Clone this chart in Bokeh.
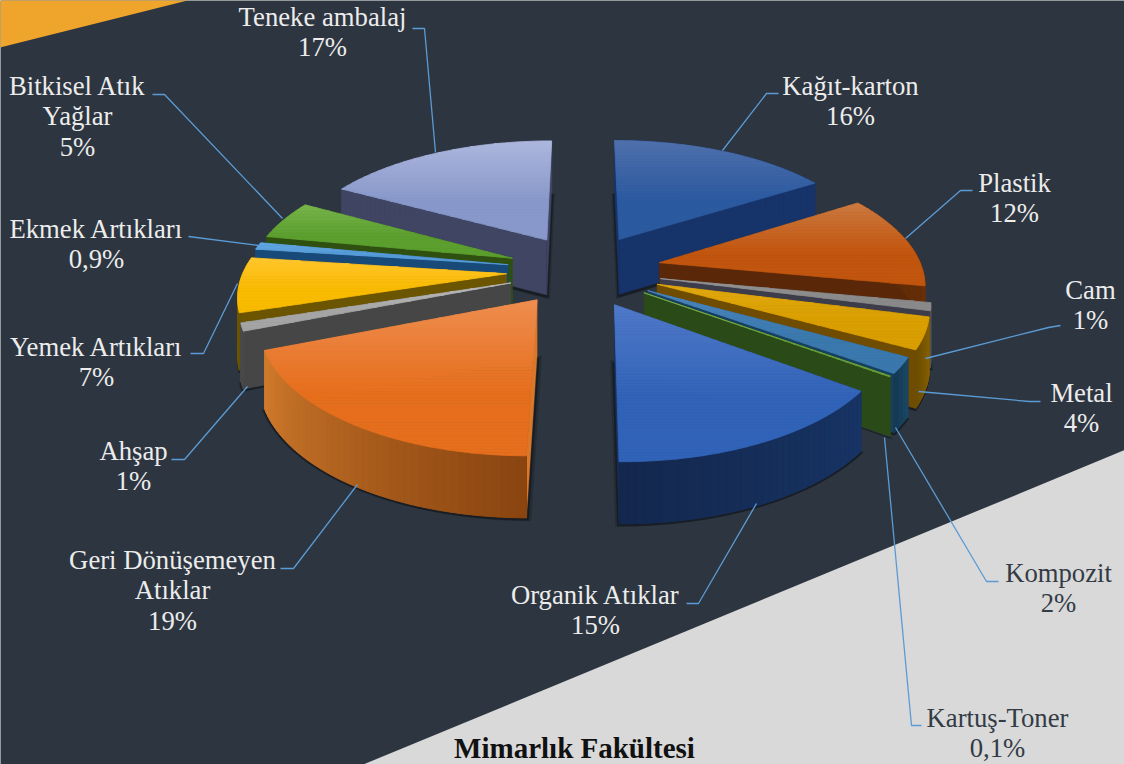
import math
from bokeh.plotting import figure
from bokeh.models import Range1d
from bokeh.core.properties import value
from bokeh.embed import file_html
from bokeh.resources import INLINE

categories = ["Kağıt-karton", "Plastik", "Cam", "Metal", "Kompozit", "Kartuş-Toner", "Organik Atıklar",
              "Geri Dönüşemeyen Atıklar", "Ahşap", "Yemek Artıkları", "Ekmek Artıkları", "Bitkisel Atık Yağlar",
              "Teneke ambalaj"]
values = [16, 12, 1, 4, 2, 0.1, 15, 19, 1, 7, 0.9, 5, 17]
value_labels = ["16%", "12%", "1%", "4%", "2%", "0,1%", "15%", "19%", "1%", "7%", "0,9%", "5%", "17%"]

top_light = ["#4f70ab", "#cc7a42", "#969696", "#e0a810", "#4a86bd", "#7fb050", "#5079c9", "#ee8e50", "#bdbdbd",
             "#ffc62e", "#62a8e0", "#78b44c", "#adb7de"]
top_dark = ["#2c5aa0", "#c2560f", "#8a8a8a", "#d99e00", "#3a78ad", "#6aa339", "#3163b8", "#e66f1d", "#a5a5a5",
            "#f9bb00", "#559bd8", "#5c9f2f", "#8898ca"]
wall_a = ["#17346a", "#5a2a08", "#3c3c4a", "#8a6200", "#1a4664", "#2a4a18", "#173465", "#8a4510", "#4a4a4a",
          "#6b5500", "#174a78", "#2f5010", "#3f4562"]
wall_b = ["#17346a", "#6a3008", "#555555", "#6e5000", "#163a55", "#2a4a18", "#14284e", "#d07a2c", "#4a4a4a",
          "#6b5500", "#174a78", "#2f5010", "#3f4562"]
side = ["#17346a", "#5a2808", "#3c3c4a", "#704c00", "#17405f", "#2a4a18", "#173465", "#d9772a", "#464646",
        "#6b5500", "#174a78", "#2f5010", "#3f4562"]
nudge_x = [0, 0, 0, 0, -3, -4, -5, 1, 4, 3, 3, 3, 3]
nudge_y = [0, -1, 0, 0, 0, 0, 0, -2, 0, 0, 0, 0, 0]

label_lines = [["Kağıt-karton"], ["Plastik"], ["Cam"], ["Metal"], ["Kompozit"], ["Kartuş-Toner"], ["Organik Atıklar"],
               ["Geri Dönüşemeyen", "Atıklar"], ["Ahşap"], ["Yemek Artıkları"], ["Ekmek Artıkları"],
               ["Bitkisel Atık", "Yağlar"], ["Teneke ambalaj"]]
label_x = [850, 1014, 1090, 1081, 1058, 997, 595, 172, 133, 96, 96, 77, 322]
label_y = [85, 182, 289, 392, 572, 717, 594, 559, 450, 346, 228, 85, 16]
label_color = ["#ececec", "#ececec", "#ececec", "#ececec", "#333b45", "#333b45", "#ececec", "#ececec", "#ececec",
               "#ececec", "#ececec", "#ececec", "#ececec"]
leaders = [
    [(778, 93), (766, 93), (722, 150)], [(972, 190), (960, 190), (905, 238)],
    [(1060, 325), (1048, 327), (925, 358)], [(1040, 401), (1029, 401), (918, 391)],
    [(998, 581), (986, 581), (895, 427)], [(921, 725), (911, 725), (884, 437)],
    [(686, 603), (698, 603), (756, 503)], [(280, 568), (293, 568), (357, 484)],
    [(171, 459), (184, 459), (247, 386)], [(190, 353), (203, 353), (237, 283)],
    [(188, 236), (258, 245)], [(152, 94), (164, 94), (282, 218)], [(412, 28), (424, 28), (435, 152)],
]

CX, CY, RX, AY, K, EXPL, H = 582, 270, 263, 122.3, 0.149, 0.3, 56
BG, ORANGE, GRAY = "#2d3640", "#efa42b", "#d9d9d9"


def hexmix(a, b, t):
    ca = [int(a[i:i + 2], 16) for i in (1, 3, 5)]
    cb = [int(b[i:i + 2], 16) for i in (1, 3, 5)]
    return "#%02x%02x%02x" % tuple(round(p + (q - p) * t) for p, q in zip(ca, cb))


def proj(u, v):
    s = 1 / (1 - K * v)
    return CX + RX * u * s, CY + AY * v * s, s


def clip(poly, y0, y1):
    def half(pts, keep, cross):
        out = []
        for i, p in enumerate(pts):
            q = pts[(i + 1) % len(pts)]
            if keep(p):
                out.append(p)
            if keep(p) != keep(q):
                t = (cross - p[1]) / (q[1] - p[1])
                out.append((p[0] + (q[0] - p[0]) * t, cross))
        return out
    r = half(poly, lambda p: p[1] >= y0, y0)
    return half(r, lambda p: p[1] <= y1, y1) if r else r


total = sum(values)
slices = []
acc = 0
for i, val in enumerate(values):
    t0 = acc / total * 2 * math.pi
    acc += val
    t1 = acc / total * 2 * math.pi
    m = (t0 + t1) / 2
    du, dv = EXPL * math.sin(m), -EXPL * math.cos(m)
    n = max(2, int((t1 - t0) / math.radians(1.5)) + 1)
    angs = [t0 + (t1 - t0) * j / (n - 1) for j in range(n)]
    plane = [(du + math.sin(a), dv - math.cos(a)) for a in angs]
    slices.append((i, m, (du, dv), plane))


def up(uv, i):
    x, y, s = proj(*uv)
    return (x + nudge_x[i], y + nudge_y[i])


def down(uv, i):
    x, y, s = proj(*uv)
    return (x + nudge_x[i], y + nudge_y[i] + H * s ** 0.5)


xs, ys, fills, alphas, widths = [], [], [], [], []


def add(poly, color, alpha=1.0, lw=1.0):
    xs.append([p[0] for p in poly])
    ys.append([p[1] for p in poly])
    fills.append(color)
    alphas.append(alpha)
    widths.append(lw)


# soft shadows on the background
for i, m, apex, plane in slices:
    outline = [down(apex, i)] + [down(q, i) for q in plane]
    cx0 = sum(q[0] for q in outline) / len(outline)
    cy0 = sum(q[1] for q in outline) / len(outline)
    for grow, a in ((1.03, 0.3), (1.015, 0.65)):
        add([(cx0 + (x - cx0) * grow, cy0 + (y - cy0) * grow + 2) for x, y in outline], "#12161b", a, 0)

for i, m, apex, plane in sorted(slices, key=lambda q: -math.cos(q[1])):
    add([up(apex, i), up(plane[0], i), down(plane[0], i), down(apex, i)], side[i], lw=0.3)
    add([up(apex, i), up(plane[-1], i), down(plane[-1], i), down(apex, i)], side[i], lw=0.3)
    for j in range(len(plane) - 1):
        a, b = plane[j], plane[j + 1]
        t = j / max(1, len(plane) - 2)
        add([up(a, i), up(b, i), down(b, i), down(a, i)], hexmix(wall_a[i], wall_b[i], t), lw=1.0)
    top = [up(apex, i)] + [up(q, i) for q in plane]
    ymin, ymax = min(q[1] for q in top), max(q[1] for q in top)
    bands = max(1, int((ymax - ymin) / 3))
    for b in range(bands):
        y0 = ymin + (ymax - ymin) * b / bands
        y1 = ymin + (ymax - ymin) * (b + 1) / bands
        piece = clip(top, y0, y1)
        if len(piece) >= 3:
            t = min(1.0, (b + 0.5) / bands / 0.6)
            add(piece, hexmix(top_light[i], top_dark[i], t), lw=0.8)

p = figure(width=1124, height=764, x_range=Range1d(0, 1124), y_range=Range1d(764, 0),
           output_backend="svg", toolbar_location=None, min_border=0,
           background_fill_color=BG, border_fill_color=BG, outline_line_color=None)
p.axis.visible = False
p.grid.visible = False

p.patch([-4, 203, -4], [-4, -4, 48], fill_color=ORANGE, line_color=None)
p.patch([1128, 1128, 353], [448, 768, 768], fill_color=GRAY, line_color=None)
p.patches(xs, ys, fill_color=fills, line_color=fills, fill_alpha=alphas, line_alpha=alphas, line_width=widths)

p.multi_line([[q[0] for q in l] for l in leaders], [[q[1] for q in l] for l in leaders],
             line_color="#5b9bd5", line_width=1.3)

tx, ty, tt, tc = [], [], [], []
for i in range(len(categories)):
    lines = label_lines[i] + [value_labels[i]]
    for k, line in enumerate(lines):
        tx.append(label_x[i])
        ty.append(label_y[i] + k * 30.6)
        tt.append(line)
        tc.append(label_color[i])
p.text(tx, ty, text=tt, text_font=value("Liberation Serif"), text_font_size="26.7px", text_color=tc,
       text_align="center", text_baseline="middle")
p.text([574], [747], text=["Mimarlık Fakültesi"], text_font=value("Liberation Serif"), text_font_size="29px",
       text_font_style="bold", text_color="#111111", text_align="center", text_baseline="middle")

open("out.html", "w").write(file_html(p, INLINE))
